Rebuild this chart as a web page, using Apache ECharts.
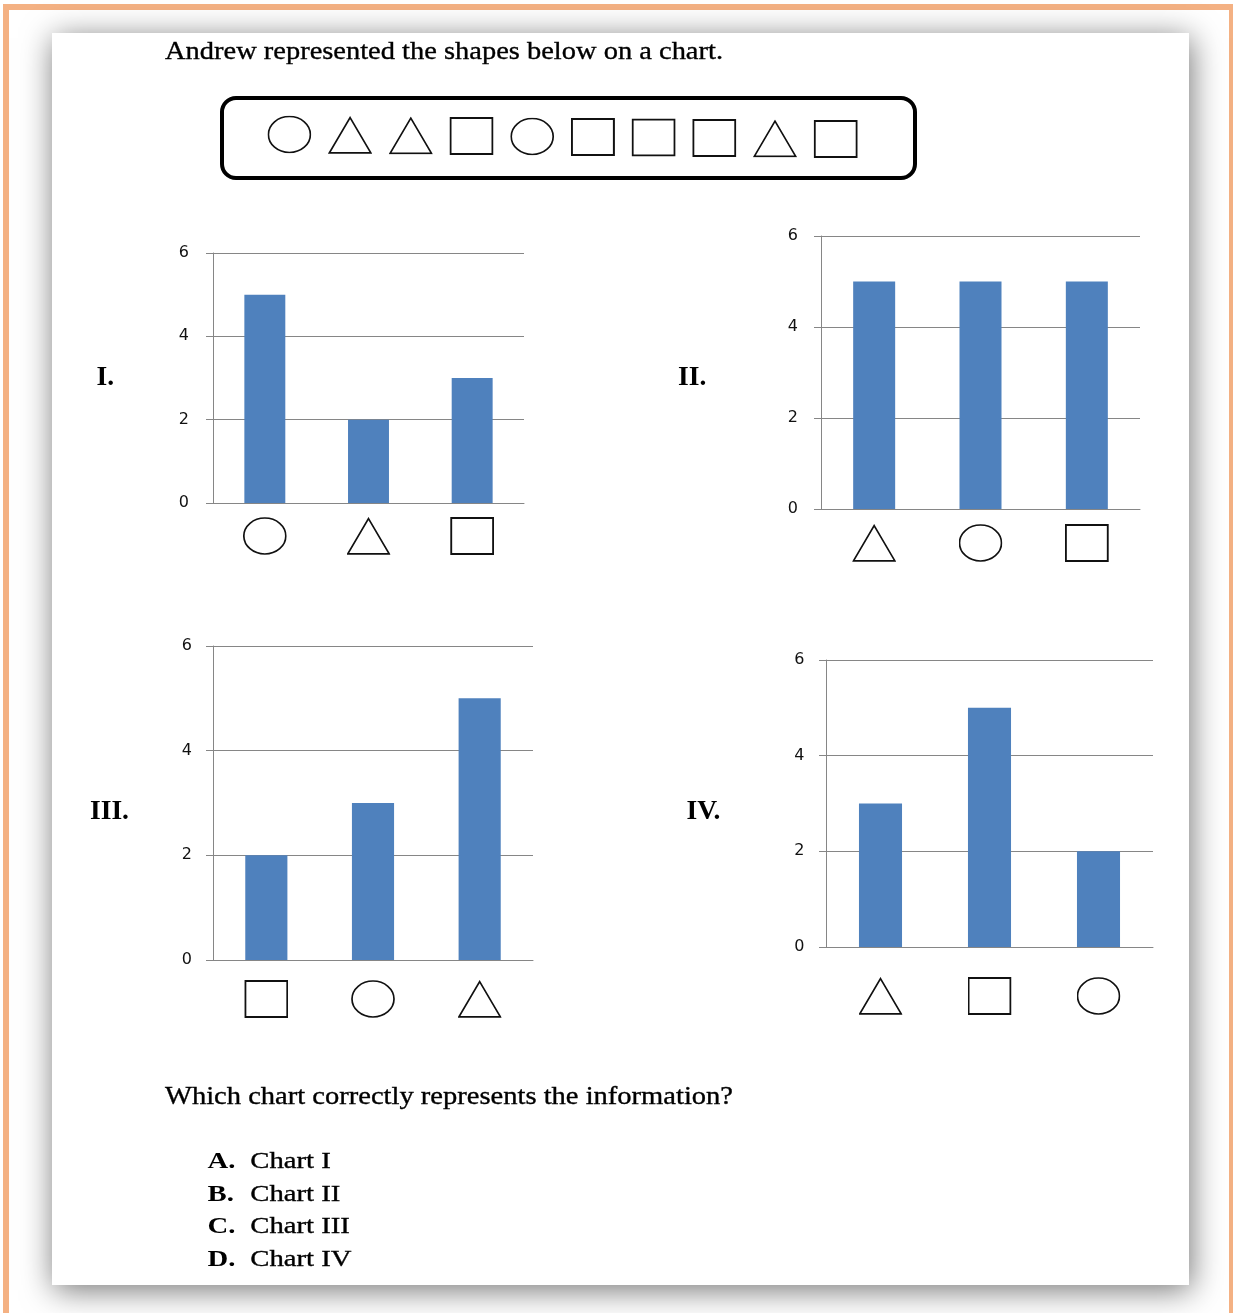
<!DOCTYPE html>
<html><head><meta charset="utf-8">
<script src="https://cdn.jsdelivr.net/npm/echarts@6/dist/echarts.min.js"></script>
<style>html,body{margin:0;padding:0;background:#fff;overflow:hidden}#c{width:1233px;height:1313px}</style>
</head><body><div id="c"></div>
<script>
// ---------- DATA ----------
const shapeSequence = ['circle','triangle','triangle','square','circle','square','square','square','triangle','square'];
const chart1Categories = ['circle','triangle','square'];
const chart1Values = [5, 2, 3];
const chart2Categories = ['triangle','circle','square'];
const chart2Values = [5, 5, 5];
const chart3Categories = ['square','circle','triangle'];
const chart3Values = [2, 3, 5];
const chart4Categories = ['triangle','square','circle'];
const chart4Values = [3, 5, 2];
const yMin = 0, yMax = 6, yInterval = 2;
const titleText = 'Andrew represented the shapes below on a chart.';
const questionText = 'Which chart correctly represents the information?';
const chartNames = ['I.','II.','III.','IV.'];
const optionLetters = ['A.','B.','C.','D.'];
const optionTexts = ['Chart I','Chart II','Chart III','Chart IV'];

// ---------- HELPERS ----------
function svgURL(inner){
  return 'data:image/svg+xml;charset=utf-8,' + encodeURIComponent(
    '<svg xmlns="http://www.w3.org/2000/svg" width="44" height="38" viewBox="0 0 44 38">' + inner + '</svg>');
}
const shapeImg = {
  circle: svgURL('<ellipse cx="22" cy="19" rx="21" ry="18" fill="#fff" stroke="#111" stroke-width="1.7"/>'),
  triangle: svgURL('<polygon points="22,1.6 42.7,36.9 1.3,36.9" fill="#fff" stroke="#111" stroke-width="1.7"/>'),
  square: svgURL('<rect x="1" y="1" width="42" height="36" fill="#fff" stroke="#111" stroke-width="2"/>')
};
const SERIF = '"Liberation Serif","Times New Roman",serif';
const mctx = document.createElement('canvas').getContext('2d');
function measure(str, size, weight){ mctx.font = weight + ' ' + size + 'px ' + SERIF; return mctx.measureText(str).width; }
function textEl(str, left, cy, size, weight, sx){
  return { type:'text', x:left, y:cy, scaleX:sx || 1, z:50,
    style:{ text:str, fontSize:size, fontWeight:weight, fontFamily:'Liberation Serif', fill:'#000',
            stroke:'#000', lineWidth: weight === 'bold' ? 0 : 0.35, align:'left', verticalAlign:'middle' } };
}

// ---------- LAYOUT ----------
const grids = [
  {left:213, top:253, width:311, height:250},
  {left:821, top:236, width:319, height:273},
  {left:213, top:646, width:320, height:314},
  {left:826, top:660, width:327, height:287}
];
const yLabelMargins = [24, 23, 21, 21.5];
const shapeMargins = [14, 15, 20, 30];
const allCats = [chart1Categories, chart2Categories, chart3Categories, chart4Categories];
const allVals = [chart1Values, chart2Values, chart3Values, chart4Values];

const richShapes = {};
Object.keys(shapeImg).forEach(k => { richShapes[k] = { width:44, height:38, backgroundColor:{ image: shapeImg[k] } }; });

const gridColor = '#868686';

// ---------- GRAPHIC ----------
const graphics = [];
graphics.push({ type:'rect', z:-100, shape:{x:6, y:7, width:1226, height:1340}, style:{fill:'#fff', stroke:'#F4B183', lineWidth:6} });
graphics.push({ type:'rect', z:-90, shape:{x:52, y:33, width:1137, height:1252},
  style:{fill:'#fff', shadowBlur:30, shadowColor:'rgba(0,0,0,0.55)', shadowOffsetX:2, shadowOffsetY:5} });

// title
const titleSize = 26;
graphics.push(textEl(titleText, 165, 52, titleSize, 'normal', 558 / measure(titleText, titleSize, 'normal')));
// shapes box
graphics.push({ type:'rect', z:40, shape:{x:222, y:98, width:693, height:80, r:14}, style:{fill:'none', stroke:'#000', lineWidth:4} });
shapeSequence.forEach((s, i) => {
  graphics.push({ type:'image', z:45, style:{ image: shapeImg[s], x: 267.4 + i * 60.7, y: 115.5 + i * 0.5, width:44, height:38 } });
});
// roman numerals
const numeralPos = [[96.5, 378], [678, 378], [90, 812], [686.5, 812]];
chartNames.forEach((n, i) => graphics.push(textEl(n, numeralPos[i][0], numeralPos[i][1], 27.5, 'bold', 1)));
// question
const qSize = 25;
graphics.push(textEl(questionText, 165, 1097.5, qSize, 'normal', 568 / measure(questionText, qSize, 'normal')));
// options
const optSize = 24;
const optSX = 80.5 / measure(optionTexts[0], optSize, 'normal');
const optY = [1162, 1194.5, 1227, 1259.5];
optionLetters.forEach((l, i) => {
  graphics.push(textEl(l, 207.5, optY[i], optSize, 'bold', optSX));
  graphics.push(textEl(optionTexts[i], 250.3, optY[i], optSize, 'normal', optSX));
});

// ---------- OPTION ----------
const option = {
  animation: false,
  backgroundColor: '#fff',
  grid: grids.map(g => Object.assign({containLabel:false}, g)),
  xAxis: allCats.map((cats, i) => ({
    type:'category', gridIndex:i, data:cats,
    axisLine:{ show:true, lineStyle:{ color:gridColor, width:1 } },
    axisTick:{ show:false },
    axisLabel:{ interval:0, margin:shapeMargins[i], formatter: v => '{' + v + '| }', rich: richShapes }
  })),
  yAxis: allCats.map((c, i) => ({
    type:'value', gridIndex:i, min:yMin, max:yMax, interval:yInterval,
    axisLine:{ show:true, lineStyle:{ color:gridColor, width:1 } },
    axisTick:{ show:true, length:7, lineStyle:{ color:gridColor, width:1 } },
    splitLine:{ show:true, lineStyle:{ color:gridColor, width:1 } },
    axisLabel:{ margin:yLabelMargins[i], color:'#111', fontSize:16, fontFamily:'DejaVu Sans',
                padding:[6,0,0,0], backgroundColor:'rgba(255,255,255,0)' }
  })),
  series: allVals.map((vals, i) => ({
    type:'bar', xAxisIndex:i, yAxisIndex:i, data:vals, barWidth:'39.5%',
    itemStyle:{ color:'#4F81BD' }
  })),
  graphic: { elements: graphics }
};

const chart = echarts.init(document.getElementById('c'), null, { renderer:'canvas' });
chart.setOption(option);
</script>
</body></html>
